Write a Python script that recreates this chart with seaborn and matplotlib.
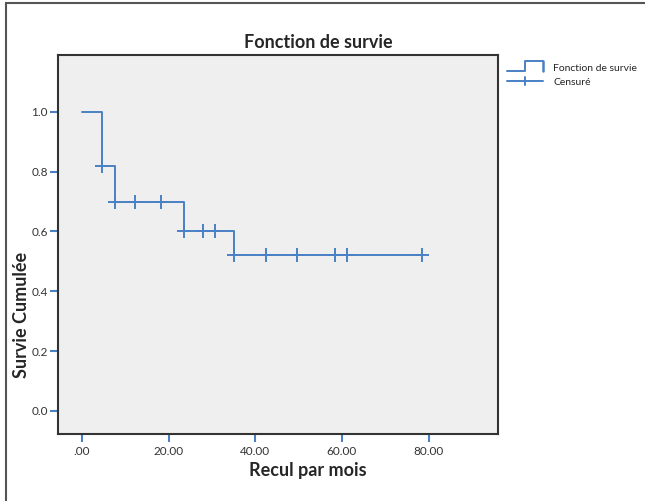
import numpy as np
import pandas as pd
import matplotlib
matplotlib.use("Agg")
import matplotlib.pyplot as plt
import seaborn as sns
from matplotlib.legend_handler import HandlerBase
from matplotlib.lines import Line2D
from matplotlib.patches import Rectangle

# Kaplan-Meier steps
step_times = [0.0, 4.7, 7.7, 23.6, 35.2, 78.4]
step_surv = [1.0, 0.82, 0.70, 0.60, 0.52, 0.52]
censor_times = [4.7, 7.7, 12.3, 18.3, 23.6, 27.9, 30.8, 35.2, 42.4, 49.6, 58.3, 61.1, 78.4]
x_ticks = [0, 20, 40, 60, 80]
x_labels = [".00", "20.00", "40.00", "60.00", "80.00"]
y_ticks = [0.0, 0.2, 0.4, 0.6, 0.8, 1.0]

blue = "#4a80c4"

steps = pd.DataFrame({"t": step_times, "s": step_surv})
idx = np.searchsorted(step_times, censor_times, side="right") - 1
censored = pd.DataFrame({"t": censor_times, "s": np.array(step_surv)[idx]})

sns.set_style("white")
plt.rcParams["font.family"] = ["Lato", "DejaVu Sans"]

fig = plt.figure(figsize=(6.45, 5.01), dpi=100)
ax = fig.add_axes([0.090, 0.134, 0.682, 0.756])
ax.set_facecolor("#efefef")

sns.lineplot(data=steps, x="t", y="s", drawstyle="steps-post", color=blue,
             linewidth=1.4, ax=ax)
sns.scatterplot(data=censored, x="t", y="s", marker="+", s=90, color=blue,
                linewidth=1.4, ax=ax, zorder=3)

ax.set_xlim(-5.5, 96)
ax.set_ylim(-0.077, 1.19)
ax.set_xticks(x_ticks)
ax.set_xticklabels(x_labels)
ax.set_yticks(y_ticks)
ax.set_yticklabels([f"{v:.1f}" for v in y_ticks])
ax.tick_params(axis="both", bottom=True, left=True, direction="out", length=6,
               width=1.5, color=blue, labelsize=8.5, labelcolor="#333333", pad=1.5)
ax.tick_params(axis="x", pad=2.5)
for sp in ax.spines.values():
    sp.set_color("#333333")
    sp.set_linewidth(1.5)

# SPSS puts the titles off-centre; place them where the picture has them
ax.set_title("Fonction de survie", fontsize=13, fontweight="bold", x=0.591, pad=5)
ax.set_xlabel("Recul par mois", fontsize=13, fontweight="bold")
ax.xaxis.set_label_coords(0.568, -0.075)
ax.set_ylabel("Survie Cumulée", fontsize=13, fontweight="bold")
ax.yaxis.set_label_coords(-0.064, 0.314)


class StepHandler(HandlerBase):
    def create_artists(self, legend, orig, xd, yd, w, h, fontsize, trans):
        xs = [xd, xd + w * 0.5, xd + w * 0.5, xd + w]
        ys = [yd, yd, yd + h * 1.3, yd + h * 1.3]
        ln = Line2D(xs, ys, color=blue, linewidth=1.4, transform=trans)
        end = Line2D([xd + w, xd + w], [yd + h * 1.3, yd], color=blue,
                     linewidth=1.8, transform=trans)
        return [ln, end]


class CensorHandler(HandlerBase):
    def create_artists(self, legend, orig, xd, yd, w, h, fontsize, trans):
        hl = Line2D([xd, xd + w], [yd + h / 2] * 2, color=blue, linewidth=1.4,
                    transform=trans)
        vl = Line2D([xd + w / 2] * 2, [yd, yd + h], color=blue, linewidth=1.4,
                    transform=trans)
        return [hl, vl]


h1 = Line2D([], [], color=blue)
h2 = Line2D([], [], color=blue, marker="+")
fig.legend([h1, h2], ["Fonction de survie", "Censuré"],
           handler_map={h1: StepHandler(), h2: CensorHandler()},
           loc="upper left", bbox_to_anchor=(0.772, 0.892), frameon=False,
           fontsize=7.5, handlelength=3.4, handletextpad=1.0, labelspacing=0.45)

fig.patches.append(Rectangle((0.009, -0.1), 1.2, 1.094, transform=fig.transFigure,
                             fill=False, edgecolor="#555555", linewidth=1.5))

fig.savefig("out.png", dpi=100)
